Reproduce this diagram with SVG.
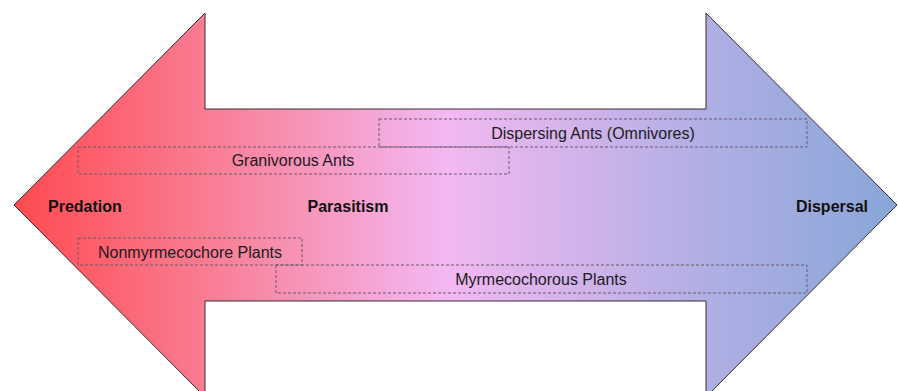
<svg xmlns="http://www.w3.org/2000/svg" width="898" height="391" viewBox="0 0 898 391">
<defs>
<linearGradient id="g" gradientUnits="userSpaceOnUse" x1="14" y1="0" x2="897" y2="0">
<stop offset="0" stop-color="#ff4a50"/>
<stop offset="0.22" stop-color="#f97d93"/>
<stop offset="0.49" stop-color="#f3b8f2"/>
<stop offset="0.78" stop-color="#b1afe4"/>
<stop offset="1" stop-color="#88a6d8"/>
</linearGradient>
<style>
.box{fill:none;stroke:#6a5a6a;stroke-width:1;stroke-dasharray:3,2}
.lbl{font-family:"Liberation Sans",Arial,sans-serif;font-size:16px;fill:#1e1a1e}
.b{font-weight:bold;fill:#111}
</style>
</defs>
<g id="arrow">
<path d="M14,205 L205,13 L205,109 L706,109 L706,13 L897,205 L706,397 L706,301 L205,301 L205,397 Z" fill="url(#g)" stroke="#3a2a30" stroke-width="1"/>
</g>
<g id="connectors"></g>
<g id="granivorous">
<rect class="box" x="78" y="147" width="431" height="27"/>
<text class="lbl" x="293" y="166" text-anchor="middle">Granivorous Ants</text>
</g>
<g id="dispersing">
<rect class="box" x="379" y="119" width="428" height="28"/>
<text class="lbl" x="593" y="139" text-anchor="middle">Dispersing Ants (Omnivores)</text>
</g>
<g id="nonmyrmecochore">
<rect class="box" x="78" y="238" width="224" height="27"/>
<text class="lbl" x="190" y="258" text-anchor="middle">Nonmyrmecochore Plants</text>
</g>
<g id="myrmecochorous">
<rect class="box" x="276" y="265" width="531" height="28"/>
<text class="lbl" x="541" y="285" text-anchor="middle">Myrmecochorous Plants</text>
</g>
<g id="predation"><text class="lbl b" x="48" y="212">Predation</text></g>
<g id="parasitism"><text class="lbl b" x="348" y="212" text-anchor="middle">Parasitism</text></g>
<g id="dispersal"><text class="lbl b" x="868" y="212" text-anchor="end">Dispersal</text></g>
</svg>
